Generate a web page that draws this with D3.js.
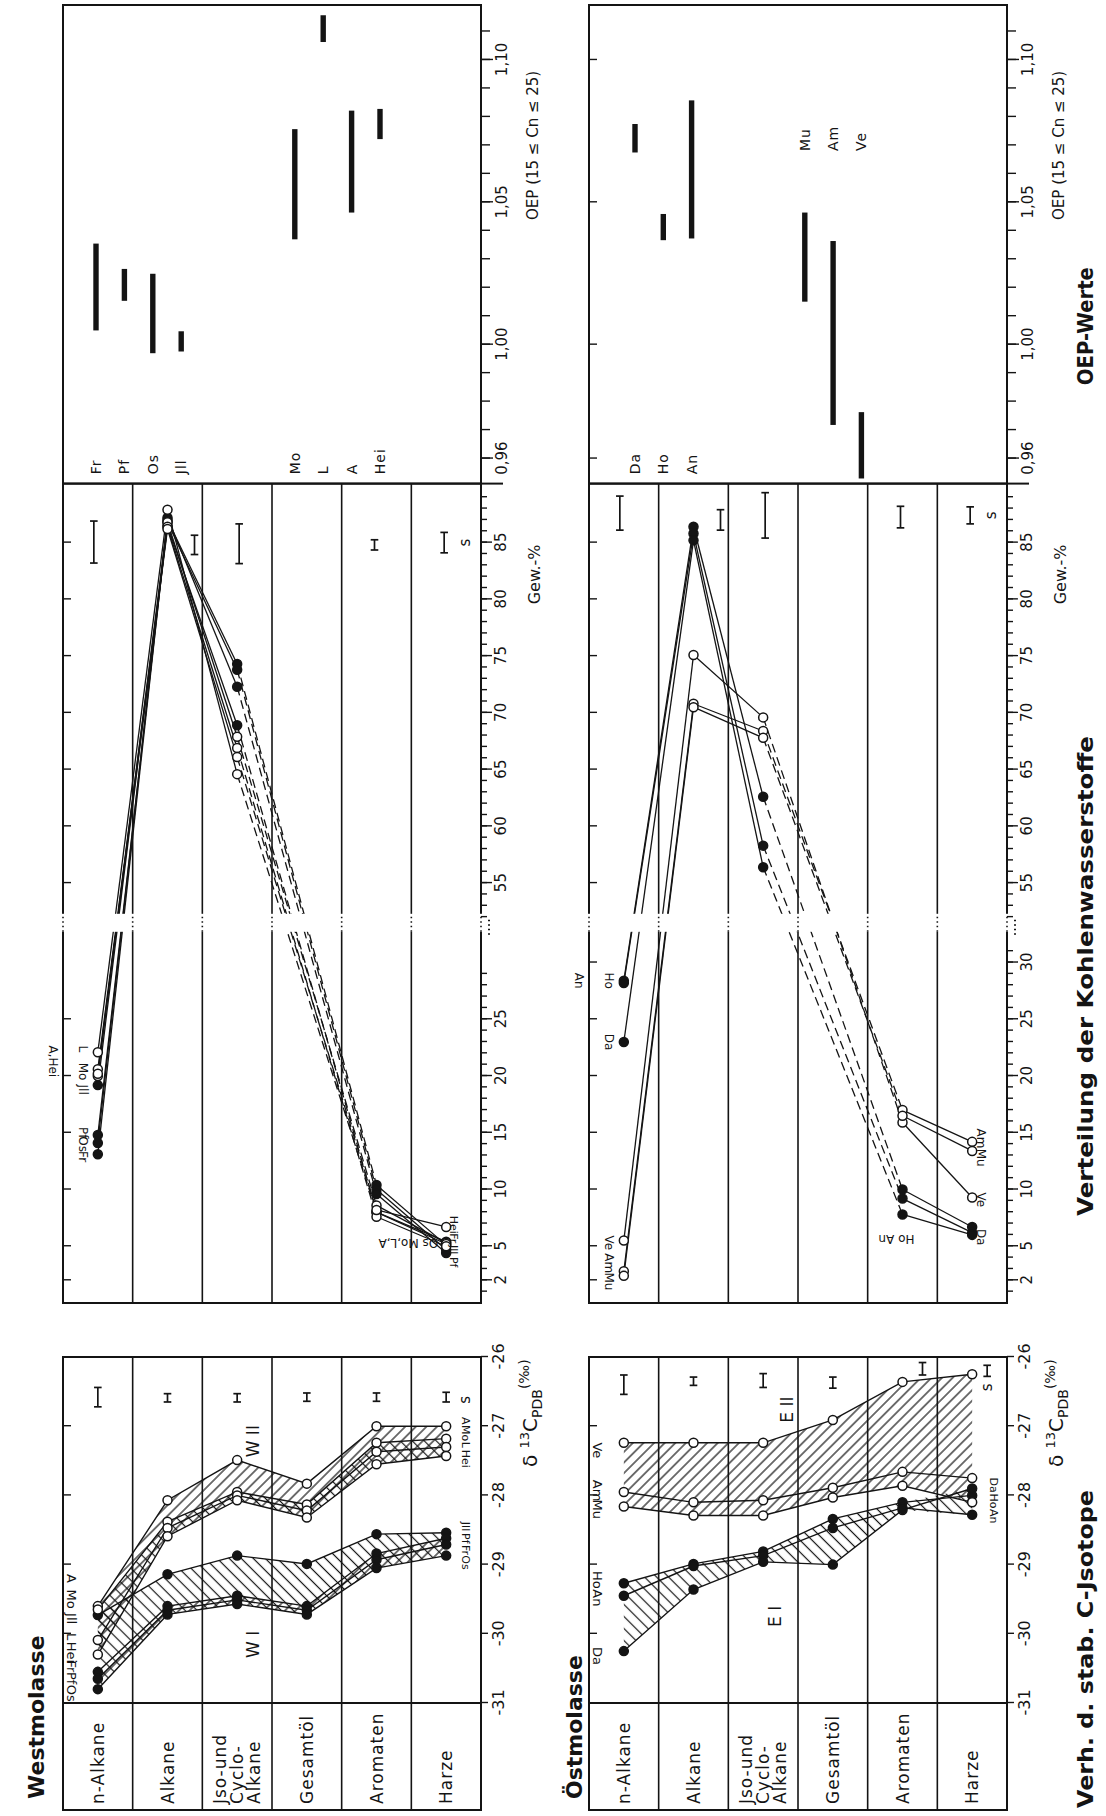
<!DOCTYPE html>
<html><head><meta charset="utf-8">
<script src="https://cdn.jsdelivr.net/npm/d3@7"></script>
<style>html,body{margin:0;padding:0;background:#fff;} svg{display:block;font-family:'DejaVu Sans','Liberation Sans',sans-serif;}</style>
</head><body><div id="chart"></div>
<script>
// ================= DATA =================
const categories = ["n-Alkane","Alkane","Jso-und Cyclo-Alkane","Gesamtöl","Aromaten","Harze"];
const categoryLines = [["n-Alkane"],["Alkane"],["Jso-und","Cyclo-","Alkane"],["Gesamtöl"],["Aromaten"],["Harze"]];
const isoTicks = [-31,-30,-29,-28,-27,-26];
const gewTicksWest = [2,5,10,15,20,25,55,60,65,70,75,80,85];
const gewTicksEast = [2,5,10,15,20,25,30,55,60,65,70,75,80,85];
const oepTicks = [0.96,1.00,1.05,1.10];

// δ13C (‰ PDB) per category – Westmolasse
const isoWestWI = [
  {sample:"Jll", values:[-29.73,-29.14,-28.87,-28.99,-28.56,-28.54]},
  {sample:"Fr",  values:[-30.55,-29.60,-29.45,-29.60,-28.84,-28.62]},
  {sample:"Pf",  values:[-30.65,-29.66,-29.51,-29.66,-28.93,-28.71]},
  {sample:"Os",  values:[-30.80,-29.72,-29.57,-29.72,-29.05,-28.87]}
];
const isoWestWII = [
  {sample:"A",   values:[-29.60,-28.07,-27.49,-27.83,-27.00,-27.00]},
  {sample:"Mo",  values:[-29.65,-28.38,-27.95,-28.13,-27.24,-27.18]},
  {sample:"L",   values:[-30.09,-28.47,-28.00,-28.22,-27.37,-27.30]},
  {sample:"Hei", values:[-30.30,-28.59,-28.07,-28.32,-27.55,-27.43]}
];
// δ13C – Östmolasse
const isoEastEI = [
  {sample:"Ho", values:[-29.27,-28.99,-28.81,-28.34,-28.10,-28.00]},
  {sample:"An", values:[-29.45,-29.02,-28.87,-28.47,-28.18,-28.28]},
  {sample:"Da", values:[-30.25,-29.36,-28.96,-29.00,-28.21,-27.90]}
];
const isoEastEII = [
  {sample:"Ve", values:[-27.24,-27.24,-27.24,-26.91,-26.36,-26.25]},
  {sample:"Am", values:[-27.95,-28.10,-28.07,-27.89,-27.66,-27.75]},
  {sample:"Mu", values:[-28.16,-28.29,-28.29,-28.03,-27.86,-28.10]}
];
// isotope error bars [centre, half-width]
const isoErrWest = [[-26.58,0.14],[-26.59,0.06],[-26.59,0.06],[-26.58,0.06],[-26.58,0.06],[-26.58,0.07]];
const isoErrEast = [[-26.40,0.14],[-26.35,0.06],[-26.34,0.10],[-26.37,0.08],[-26.17,0.09],[-26.20,0.08]];

// Gew.-% per category (Gesamtöl not measured)
const gewWestWI = [
  {sample:"Fr",  values:[13.1,87.0,74.3,null,10.4,5.1]},
  {sample:"Pf",  values:[14.8,86.8,73.8,null,10.0,4.7]},
  {sample:"Os",  values:[14.1,87.2,72.3,null,9.6,4.4]},
  {sample:"Jll", values:[19.2,86.5,68.9,null,8.0,5.4]}
];
const gewWestWII = [
  {sample:"Mo",  values:[20.0,86.8,67.9,null,8.6,5.3]},
  {sample:"L",   values:[22.1,87.9,64.6,null,8.0,5.2]},
  {sample:"A",   values:[20.6,86.4,66.9,null,7.6,5.0]},
  {sample:"Hei", values:[20.2,86.2,66.1,null,8.2,6.7]}
];
const gewEastEI = [
  {sample:"Ho", values:[28.4,86.4,62.6,null,10.0,6.7]},
  {sample:"An", values:[28.2,85.8,58.3,null,9.2,6.2]},
  {sample:"Da", values:[23.0,85.2,56.4,null,7.8,6.0]}
];
const gewEastEII = [
  {sample:"Ve", values:[5.5,75.1,69.6,null,15.9,9.3]},
  {sample:"Am", values:[2.8,70.8,68.4,null,17.0,14.2]},
  {sample:"Mu", values:[2.4,70.5,67.8,null,16.5,13.4]}
];
// Gew.-% error bars [centre, half-width] (Gesamtöl none)
const gewErrWest = [[85.05,1.85],[84.8,0.85],[84.9,1.75],null,[84.8,0.45],[85.0,0.9]];
const gewErrEast = [[87.6,1.5],[87.0,0.9],[87.4,2.0],null,[87.25,0.95],[87.4,0.75]];

// OEP (15 ≤ Cn ≤ 25) ranges
const oepWest = [
  {sample:"Fr", range:[1.005,1.0355]}, {sample:"Pf", range:[1.0154,1.0266]},
  {sample:"Os", range:[0.997,1.0249]}, {sample:"Jll", range:[0.9976,1.0047]},
  {sample:"Mo", range:[1.037,1.0757]}, {sample:"L", range:[1.1063,1.1157]},
  {sample:"A", range:[1.0464,1.0822]}, {sample:"Hei", range:[1.0722,1.0828]}
];
const oepEast = [
  {sample:"Da", range:[1.0675,1.0775]}, {sample:"Ho", range:[1.0367,1.0459]},
  {sample:"An", range:[1.0373,1.0858]}, {sample:"Mu", range:[1.0151,1.0464]},
  {sample:"Am", range:[0.9718,1.0364]}, {sample:"Ve", range:[0.953,0.9763]}
];

// ================= LAYOUT =================
const ink = "#141414";
const svg = d3.select("#chart").append("svg").attr("width",1106).attr("height",1816);
svg.append("rect").attr("width",1106).attr("height",1816).attr("fill","#fff");
const defs = svg.append("defs");
// the figure is drawn in landscape (1816 x 1106) and turned by -90°
const root = svg.append("g").attr("transform","translate(0,1816) rotate(-90)");

const isoX = d3.scaleLinear().domain([-31,-26]).range([113,459]);
const gewX = d3.scaleLinear().domain([0,33.5,51.5,90.2]).range([513,893.2,893.2,1332.4]);
const oepX = d3.scaleLinear().domain([0.9512,1.1193]).range([1332.4,1811]);
const LABEL_X0 = 6;

const panels = [
  {title:"Westmolasse", titleY:44, y0:63, y1:481,
   iso:[{series:isoWestWI, filled:true, hatch:"hA", cross:"hB"},{series:isoWestWII, filled:false, hatch:"hB", cross:"hA"}],
   isoErr:isoErrWest, isoErrOff:[0,0,0,0,0,0], sAt:[-26.62,24],
   gew:[{series:gewWestWI,filled:true},{series:gewWestWII,filled:false}], gewErr:gewErrWest,
   gewTicks:gewTicksWest, gewMinor:[d3.range(1,30), d3.range(52,90)],
   oep:oepWest, oepSlots:[0,1,2,3,7,8,9,10], oepSlot:d3.scaleLinear().domain([0,1]).range([96,124.4]),
   oepLabelAt:[0.9545,0.9545,0.9545,0.9545,0.9545,0.9545,0.9545,0.9545]},
  {title:"Östmolasse", titleY:582, y0:589, y1:1007,
   iso:[{series:isoEastEI, filled:true, hatch:"hA"},{series:isoEastEII, filled:false, hatch:"hB"}],
   isoErr:isoErrEast, isoErrOff:[0,0,0,0,20,15], sAt:[-26.44,20],
   gew:[{series:gewEastEI,filled:true},{series:gewEastEII,filled:false}], gewErr:gewErrEast,
   gewTicks:gewTicksEast, gewMinor:[d3.range(1,32), d3.range(52,90)],
   oep:oepEast, oepSlots:[0,1,2,6,7,8], oepSlot:d3.scaleLinear().domain([0,1]).range([635,663.3]),
   oepLabelAt:[0.9545,0.9545,0.9545,1.068,1.068,1.068]}
];

// hatch patterns
function hatch(id, angle, gap){
  const p = defs.append("pattern").attr("id",id).attr("patternUnits","userSpaceOnUse")
    .attr("width",gap).attr("height",gap).attr("patternTransform",`rotate(${angle})`);
  p.append("line").attr("x1",gap/2).attr("y1",0).attr("x2",gap/2).attr("y2",gap)
    .attr("stroke",ink).attr("stroke-width",1.2);
}
hatch("hA", 45, 8.5);
hatch("hB", -45, 7.5);

function txt(g, s, x, y, o={}){
  const t = g.append("text").attr("transform",`translate(${x},${y}) rotate(${o.rot||0})`)
    .attr("font-size",o.size||13).attr("text-anchor",o.anchor||"start").attr("fill",ink).text(s);
  if(o.weight) t.attr("font-weight",o.weight);
  if(o.ls!=null) t.attr("letter-spacing",o.ls);
  if(o.len) t.attr("textLength",o.len).attr("lengthAdjust","spacingAndGlyphs");
  return t;
}
function hline(g,x1,x2,y,w){ g.append("line").attr("x1",x1).attr("x2",x2).attr("y1",y).attr("y2",y).attr("stroke",ink).attr("stroke-width",w||1.6); }
function vline(g,x,y1,y2,w){ g.append("line").attr("x1",x).attr("x2",x).attr("y1",y1).attr("y2",y2).attr("stroke",ink).attr("stroke-width",w||1.6); }
function errBar(g, x1, x2, y){
  hline(g,x1,x2,y,1.7); vline(g,x1,y-3.8,y+3.8,1.7); vline(g,x2,y-3.8,y+3.8,1.7);
}
function styleAxis(a, size){
  a.select(".domain").remove();
  a.selectAll(".tick line").attr("stroke",ink).attr("stroke-width",1.4);
  a.selectAll(".tick text").attr("fill",ink).attr("font-size",size||15).attr("font-family","'DejaVu Sans',sans-serif");
}
function markers(g, series, filled, xf, yf){
  series.forEach(s => s.values.forEach((v,i)=>{
    if(v==null) return;
    g.append("circle").attr("cx",xf(v)).attr("cy",yf(i)).attr("r",4.5)
      .attr("fill",filled?ink:"#fff").attr("stroke",ink).attr("stroke-width",1.5);
  }));
}

panels.forEach((p,pi)=>{
  const rowY = d3.scaleBand().domain(categories).range([p.y0,p.y1]);
  const bw = rowY.bandwidth();
  const cy = i => rowY(categories[i]) + bw/2;

  // ---------- title ----------
  txt(root, p.title, 17, p.titleY, {size:22, weight:"bold"});

  // ================ ISOTOPE PANEL =================
  const gi = root.append("g");
  p.iso.forEach(grp=>{
    const env = (ser)=>{
      const hi = categories.map((c,i)=>[isoX(d3.max(ser,s=>s.values[i])), cy(i)]);
      const lo = categories.map((c,i)=>[isoX(d3.min(ser,s=>s.values[i])), cy(i)]).reverse();
      return d3.line()(hi.concat(lo))+"Z";
    };
    gi.append("path").attr("d",env(grp.series)).attr("fill",`url(#${grp.hatch})`);
    if(grp.cross) gi.append("path").attr("d",env(grp.series.slice(1))).attr("fill",`url(#${grp.cross})`);
  });
  const isoLine = d3.line().x(v=>isoX(v)).y((v,i)=>cy(i));
  p.iso.forEach(grp=>{
    grp.series.forEach(s=> gi.append("path").attr("d",isoLine(s.values)).attr("fill","none").attr("stroke",ink).attr("stroke-width",1.4));
  });
  p.iso.forEach(grp=> markers(gi, grp.series, grp.filled, isoX, cy));
  gi.append("rect").attr("x",LABEL_X0).attr("y",p.y0).attr("width",isoX(-26)-LABEL_X0).attr("height",p.y1-p.y0)
    .attr("fill","none").attr("stroke",ink).attr("stroke-width",2);
  categories.slice(1).forEach(c=> hline(gi, LABEL_X0, isoX(-26), rowY(c)));
  vline(gi, isoX(-31), p.y0, p.y1, 1.8);
  categoryLines.forEach((lines,i)=>{
    const n = lines.length, lh = 17;
    lines.forEach((s,k)=> txt(gi, s, 12, cy(i) + 6 + (k-(n-1)/2)*lh, {size:17, ls:1}));
  });
  p.isoErr.forEach((e,i)=> errBar(gi, isoX(e[0]-e[1]), isoX(e[0]+e[1]), cy(i)+p.isoErrOff[i]));
  txt(gi, "s", isoX(p.sAt[0]), cy(5)+p.sAt[1], {size:15, anchor:"middle"});
  const ax1 = gi.append("g").attr("transform",`translate(0,${p.y1})`)
    .call(d3.axisBottom(isoX).tickValues(isoTicks).tickSize(7).tickPadding(5).tickFormat(d=>String(d)));
  styleAxis(ax1, 16);
  const ax2 = gi.append("g").attr("transform",`translate(0,${p.y0})`)
    .call(d3.axisBottom(isoX).tickValues([-30,-29,-28,-27]).tickSize(8).tickFormat(""));
  styleAxis(ax2);
  const dt = gi.append("text").attr("transform",`translate(${isoX(-27.59)},${p.y1+56})`).attr("fill",ink).attr("font-size",20);
  dt.append("tspan").text("δ ");
  dt.append("tspan").attr("font-size",13).attr("dy",-8).text("13");
  dt.append("tspan").attr("dy",8).text("C");
  dt.append("tspan").attr("font-size",14).attr("dy",5).text("PDB");
  dt.append("tspan").attr("font-size",14).attr("dy",-13).text("(‰)");

  // ================ GEW.-% PANEL =================
  const gg = root.append("g");
  const gx0 = gewX(0), gx1 = gewX(90.2);
  const segs = [[0,1,false],[1,2,false],[2,4,true],[4,5,false]];
  p.gew.forEach(grp=> grp.series.forEach(s=>{
    segs.forEach(([a,b,dash])=>{
      const l = gg.append("line").attr("x1",gewX(s.values[a])).attr("y1",cy(a))
        .attr("x2",gewX(s.values[b])).attr("y2",cy(b)).attr("stroke",ink).attr("stroke-width",1.3);
      if(dash) l.attr("stroke-dasharray","9,5");
    });
  }));
  gg.append("rect").attr("x",gx0).attr("y",p.y0).attr("width",gx1-gx0).attr("height",p.y1-p.y0)
    .attr("fill","none").attr("stroke",ink).attr("stroke-width",2);
  categories.slice(1).forEach(c=> hline(gg, gx0, gx1, rowY(c)));
  // axis break
  const bx = gewX(33.5);
  gg.append("rect").attr("x",bx-9).attr("y",p.y0-2).attr("width",18).attr("height",p.y1-p.y0+16).attr("fill","#fff");
  [p.y0, ...categories.slice(1).map(c=>rowY(c)), p.y1].forEach(y=>{
    gg.append("line").attr("x1",bx-9).attr("x2",bx+9).attr("y1",y).attr("y2",y)
      .attr("stroke",ink).attr("stroke-width",1.6).attr("stroke-dasharray","1.5,3");
  });
  p.gew.forEach(grp=> markers(gg, grp.series, grp.filled, gewX, cy));
  const gewOff = [-4, 27, 2, 0, -2, -2];
  p.gewErr.forEach((e,i)=>{ if(e) errBar(gg, gewX(e[0]-e[1]), gewX(e[0]+e[1]), cy(i)+gewOff[i]); });
  txt(gg, "s", gewX(p.gewErr[5][0]), cy(5)+24, {size:15, anchor:"middle"});
  p.gewMinor.forEach(m=>{
    const a = gg.append("g").attr("transform",`translate(0,${p.y1})`)
      .call(d3.axisBottom(gewX).tickValues(m).tickSize(6).tickFormat(""));
    styleAxis(a);
  });
  const ga = gg.append("g").attr("transform",`translate(0,${p.y1})`)
    .call(d3.axisBottom(gewX).tickValues(p.gewTicks).tickSize(11).tickPadding(3).tickFormat(d=>String(d)));
  styleAxis(ga, 15);
  const gt = gg.append("g").attr("transform",`translate(0,${p.y0})`)
    .call(d3.axisBottom(gewX).tickValues(p.gewTicks).tickSize(8).tickFormat(""));
  styleAxis(gt);
  gg.append("line").attr("x1",bx-12).attr("x2",bx+4).attr("y1",p.y1+8).attr("y2",p.y1+8)
    .attr("stroke",ink).attr("stroke-width",2).attr("stroke-dasharray","1.5,3");
  txt(gg, "Gew.-%", gewX(82.2), p.y1+59, {size:16, anchor:"middle"});

  // ================ OEP PANEL =================
  const go = root.append("g");
  const ox0 = oepX.range()[0], ox1 = oepX.range()[1];
  go.append("rect").attr("x",ox0).attr("y",p.y0).attr("width",ox1-ox0).attr("height",p.y1-p.y0)
    .attr("fill","none").attr("stroke",ink).attr("stroke-width",2);
  vline(go, ox0, p.y1, p.y1+22, 2);
  p.oep.forEach((d,k)=>{
    const y = p.oepSlot(p.oepSlots[k]);
    go.append("rect").attr("x",oepX(d.range[0])).attr("y",y-2.7).attr("width",oepX(d.range[1])-oepX(d.range[0])).attr("height",5.4).attr("fill",ink);
    txt(go, d.sample, oepX(p.oepLabelAt[k]), y+5, {size:14, ls:1});
  });
  const oa = go.append("g").attr("transform",`translate(0,${p.y1})`)
    .call(d3.axisBottom(oepX).tickValues(d3.range(96,112).map(v=>v/100)).tickSize(9).tickFormat(""));
  styleAxis(oa);
  const ob = go.append("g").attr("transform",`translate(0,${p.y1})`)
    .call(d3.axisBottom(oepX).tickValues(oepTicks).tickSize(12).tickPadding(3).tickFormat(d=>d.toFixed(2).replace(".",",")));
  styleAxis(ob, 15);
  if(pi===1){
    const oc = go.append("g").attr("transform",`translate(0,${p.y0})`)
      .call(d3.axisBottom(oepX).tickValues(oepTicks).tickSize(8).tickFormat(""));
    styleAxis(oc);
  }
  txt(go, "OEP (15 ≤ Cn ≤ 25)", oepX(1.07), p.y1+57, {size:15, anchor:"middle"});
});

// ================ POINT LABELS (annotations) =================
const W0 = panels[0], E0 = panels[1];
function rowScale(p){ return d3.scaleBand().domain(categories).range([p.y0,p.y1]); }
const rW = rowScale(W0), rE = rowScale(E0);
const cyW = i => rW(categories[i]) + rW.bandwidth()/2, cyE = i => rE(categories[i]) + rE.bandwidth()/2;
const ann = root.append("g");
function up(s,x,y,size){ txt(ann,s,x,y,{rot:180,size:size||12,anchor:"middle"}); }
// isotope West, n-Alkane
[["A",-29.2],["Mo",-29.5],["Jll",-29.78],["L",-30.04],["Hei",-30.27],["Fr",-30.47],["Pf",-30.64],["Os",-30.86]]
  .forEach(([s,v])=> up(s, isoX(v), W0.y0+4, 13));
// isotope West, Harze
[["A",-26.92],["Mo",-27.1],["L",-27.27],["Hei",-27.47],["Jll",-28.45],["Pf",-28.62],["Fr",-28.79],["Os",-28.97]]
  .forEach(([s,v])=> up(s, isoX(v), W0.y1-19, 11));
// isotope East, n-Alkane
[["Ve",-27.35],["Am",-27.93],["Mu",-28.2],["Ho",-29.22],["An",-29.48],["Da",-30.32]]
  .forEach(([s,v])=> up(s, isoX(v), E0.y0+4, 13));
// isotope East, Harze
[["Da",-27.85],["Ho",-28.08],["An",-28.3]].forEach(([s,v])=> up(s, isoX(v), E0.y1-17, 11));
// group names
txt(ann,"W II", isoX(-27.45), cyW(2)+22, {size:17});
txt(ann,"W I", isoX(-30.35), cyW(2)+22, {size:17});
txt(ann,"E II", isoX(-26.95), cyE(2)+30, {size:17});
txt(ann,"E I", isoX(-29.9), cyE(2)+18, {size:17});
// Gew West
[["L",22.4],["Mo",20.4],["Jll",18.8],["Pf",15.0],["Os",14.0],["Fr",12.9]].forEach(([s,v])=> up(s, gewX(v), W0.y0+16));
up("A,Hei", gewX(21.3), W0.y0-14);
[["Hei",6.9],["Fr",5.7],["Jll",4.7],["Pf",3.6]].forEach(([s,v])=> up(s, gewX(v), cyW(5)+4, 11));
txt(ann,"Os  Mo,L,A", gewX(5.6), cyW(5)-8, {rot:-90, size:12});
// Gew East
[["Ho",28.4],["Da",23.0],["Ve",5.3],["Am",3.5],["Mu",1.9]].forEach(([s,v])=> up(s, gewX(v), E0.y0+16));
up("An", gewX(28.4), E0.y0-14);
[["Am",14.5],["Mu",12.8],["Ve",9.1],["Da",5.8]].forEach(([s,v])=> up(s, gewX(v), cyE(5)+5, 12));
txt(ann,"Ho  An", gewX(6.0), cyE(4)+12, {rot:-90, size:12});

// ================ BOTTOM TITLES =================
txt(root, "Verh. d. stab. C-Jsotope", 8, 1093, {size:22, weight:"bold", len:318});
txt(root, "Verteilung  der  Kohlenwasserstoffe", 600, 1093, {size:21, weight:"bold", len:480});
txt(root, "OEP-Werte", oepX(1.0065), 1093, {size:21, weight:"bold", anchor:"middle", len:118});
</script>
</body></html>
